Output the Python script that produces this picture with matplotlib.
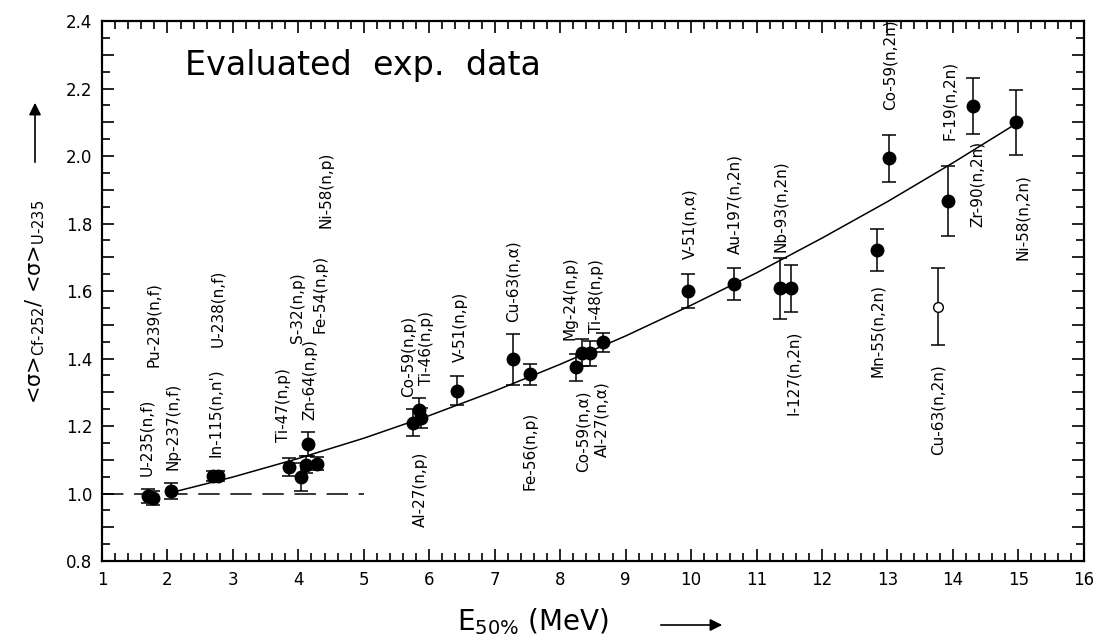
import matplotlib
matplotlib.use("Agg")
import matplotlib.pyplot as plt
import numpy as np

plt.rcParams['font.family'] = ['DejaVu Sans']
plt.rcParams['mathtext.fontset'] = 'dejavusans'

# reactions, effective energy, ratio and uncertainty
reactions = ["U-235(n,f)", "Pu-239(n,f)", "Np-237(n,f)", "In-115(n,n')", "U-238(n,f)",
             "Ti-47(n,p)", "Zn-64(n,p)", "S-32(n,p)", "Ni-58(n,p)", "Fe-54(n,p)",
             "Al-27(n,p)", "Co-59(n,p)", "Ti-46(n,p)", "V-51(n,p)", "Cu-63(n,α)",
             "Fe-56(n,p)", "Co-59(n,α)", "Mg-24(n,p)", "Al-27(n,α)", "Ti-48(n,p)",
             "V-51(n,α)", "Au-197(n,2n)", "Nb-93(n,2n)", "I-127(n,2n)", "Mn-55(n,2n)",
             "Co-59(n,2n)", "F-19(n,2n)", "Zr-90(n,2n)", "Ni-58(n,2n)"]
energy = [1.71, 1.78, 2.06, 2.70, 2.77,
          3.86, 4.04, 4.14, 4.12, 4.28,
          5.755, 5.84, 5.88, 6.43, 7.28,
          7.54, 8.24, 8.34, 8.45, 8.66,
          9.955, 10.65, 11.36, 11.53, 12.84,
          13.03, 13.93, 14.31, 14.96]
ratio = [0.992, 0.987, 1.007, 1.052, 1.052,
         1.079, 1.049, 1.147, 1.085, 1.089,
         1.210, 1.249, 1.223, 1.305, 1.398,
         1.354, 1.374, 1.417, 1.415, 1.448,
         1.601, 1.621, 1.608, 1.608, 1.721,
         1.993, 1.867, 2.148, 2.100]
err = [0.02, 0.02, 0.024, 0.016, 0.016,
       0.027, 0.042, 0.036, 0.025, 0.02,
       0.04, 0.035, 0.03, 0.043, 0.075,
       0.031, 0.04, 0.04, 0.038, 0.028,
       0.05, 0.047, 0.09, 0.069, 0.062,
       0.07, 0.105, 0.083, 0.097]

# open symbol point
open_name = "Cu-63(n,2n)"
open_energy = 13.77
open_ratio = 1.554
open_err = 0.113

# fitted curve
fit_e = [2, 3, 4, 5, 6, 7, 8, 9, 10, 11, 12, 13, 14, 15]
fit_r = [1.000, 1.049, 1.104, 1.164, 1.231, 1.304, 1.383, 1.467, 1.558, 1.654,
         1.757, 1.865, 1.980, 2.100]

ref_e = [1, 5]
ref_r = [1.0, 1.0]

# label anchor positions (x centre, bottom of rotated text)
label_pos = [(1.68, 1.052), (1.78, 1.375), (2.08, 1.070), (2.73, 1.109), (2.77, 1.435),
             (3.77, 1.153), (4.18, 1.218), (3.99, 1.446), (4.42, 1.787), (4.33, 1.476),
             (5.86, 0.902), (5.68, 1.287), (5.96, 1.321), (6.47, 1.391), (7.28, 1.509),
             (7.54, 1.010), (8.35, 1.065), (8.15, 1.455), (8.63, 1.109), (8.56, 1.475),
             (9.98, 1.695), (10.67, 1.710), (11.36, 1.716), (11.56, 1.233), (12.84, 1.346),
             (13.04, 2.136), (13.95, 2.047), (14.37, 1.790), (15.07, 1.692)]
open_label_pos = (13.77, 1.114)

fig = plt.figure(figsize=(10.97, 6.39), dpi=100)
ax = fig.add_axes([0.093, 0.122, 0.895, 0.845])

ax.plot(ref_e, ref_r, color='black', lw=1.1, dashes=(14, 7))
ax.plot(fit_e, fit_r, color='black', lw=1.1)
ax.errorbar(energy, ratio, yerr=err, fmt='o', color='black', ms=9,
            capsize=5, elinewidth=1.1, capthick=1.1)
ax.errorbar([open_energy], [open_ratio], yerr=[open_err], fmt='o', color='black',
            mfc='white', ms=7, capsize=5, elinewidth=1.1, capthick=1.1)

for name, (lx, ly) in zip(reactions, label_pos):
    ax.text(lx, ly, name, rotation=90, ha='center', va='bottom', fontsize=11)
ax.text(open_label_pos[0], open_label_pos[1], open_name, rotation=90,
        ha='center', va='bottom', fontsize=11)

ax.text(2.27, 2.267, "Evaluated  exp.  data", fontsize=24, ha='left', va='center')

ax.set_xlim(1, 16)
ax.set_ylim(0.8, 2.4)
ax.set_xticks(np.arange(1, 17, 1))
ax.set_xticks(np.arange(1, 16.01, 0.2), minor=True)
yt = np.round(np.arange(0.8, 2.41, 0.1), 2)
ax.set_yticks(yt)
ax.set_yticklabels(["%.1f" % v if i % 2 == 0 else "" for i, v in enumerate(yt)])
ax.set_yticks(np.arange(0.8, 2.401, 0.05), minor=True)
ax.tick_params(which='both', direction='in', top=True, right=True, labelsize=12,
               width=1.2)
ax.tick_params(which='major', length=8.5, pad=7)
ax.tick_params(which='minor', length=5.5)
for s in ax.spines.values():
    s.set_linewidth(1.6)

fig.text(35 / 1097, 1 - 302 / 639,
         "<σ>$_{\\mathrm{Cf\u2010252}}$/ <σ>$_{\\mathrm{U\u2010235}}$",
         rotation=90, ha='center', va='center', fontsize=15)
fig.patches.append(matplotlib.patches.FancyArrowPatch(
    (35 / 1097, 1 - 165 / 639), (35 / 1097, 1 - 100 / 639),
    transform=fig.transFigure, arrowstyle='-|>', mutation_scale=18,
    color='black', lw=1.2))

fig.text(533 / 1097, 1 - 622 / 639, r"E$_{50\%}$ (MeV)", ha='center', va='center',
         fontsize=20)
fig.patches.append(matplotlib.patches.FancyArrowPatch(
    (658 / 1097, 1 - 625 / 639), (725 / 1097, 1 - 625 / 639),
    transform=fig.transFigure, arrowstyle='-|>', mutation_scale=18,
    color='black', lw=1.2))

fig.savefig("out.png", dpi=100)
